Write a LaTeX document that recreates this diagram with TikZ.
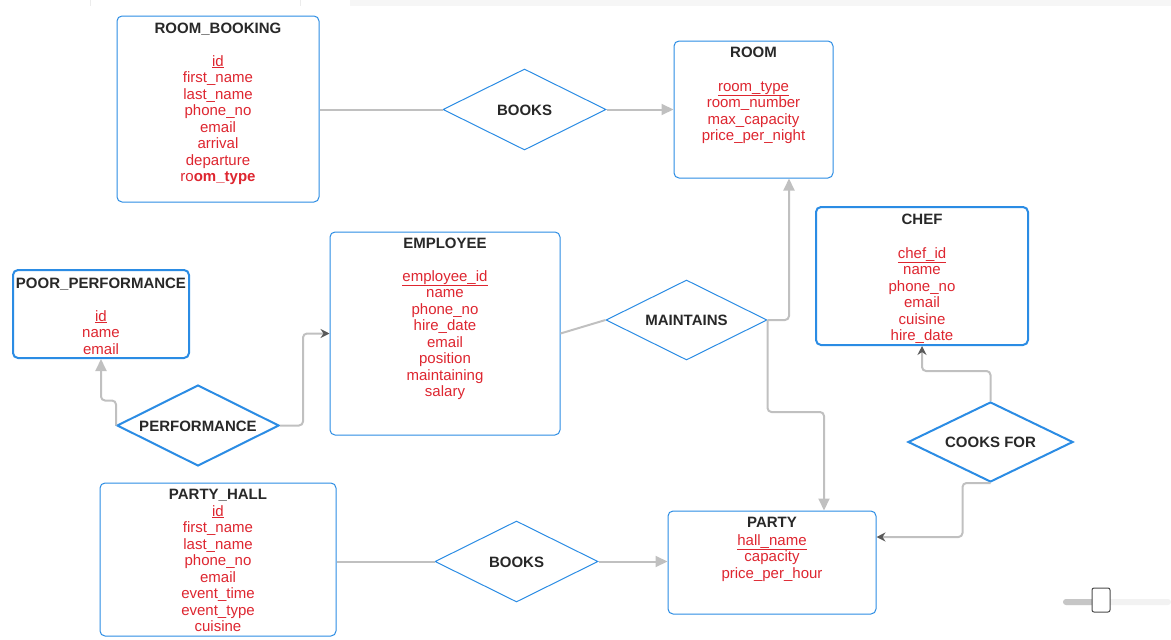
\documentclass[tikz,border=0pt]{standalone}
\usepackage{fontspec}
\setmainfont{Liberation Sans}
\usetikzlibrary{shapes.geometric,arrows.meta,calc}
\definecolor{erblue}{RGB}{43,140,228}
\definecolor{connc}{RGB}{192,192,192}
\definecolor{attrred}{RGB}{222,38,48}
\definecolor{ttl}{RGB}{40,40,40}
\newcommand\keyattr[1]{\underline{#1}}
\tikzset{
 entity/.style={draw=erblue, rounded corners=5pt, line width=1pt, inner sep=0pt, fill=white},
 thickentity/.style={entity, line width=2pt},
 rel/.style={diamond, draw=erblue, line width=1pt, inner sep=0pt, fill=white},
 thickrel/.style={rel, line width=2pt},
 rellabel/.style={font=\bfseries\fontsize{15}{16.5}\selectfont, text=ttl, inner sep=0pt, yshift=-0.5pt},
 ttlt/.style={font=\bfseries\fontsize{15}{16.5}\selectfont, text=ttl, inner sep=0pt, anchor=base, yshift=-1pt},
 attr/.style={font=\fontsize{15}{16.5}\selectfont, text=attrred, inner sep=0pt, anchor=base, yshift=-1pt},
 connector/.style={draw=connc, line width=2pt, rounded corners=4pt},
 arr/.style={-{Triangle[length=12pt,width=11pt]}},
 scrib/.style={-{Stealth[length=9pt,width=9pt,color=gray!70!black]}},
}
\begin{document}
\begin{tikzpicture}[x=1pt,y=-1pt]
\useasboundingbox (0,0) rectangle (1171,640);
% top band
\fill[gray!7] (350,0) rectangle (1171,6);
\draw[gray!15] (90,0) -- (90,6) (300,0) -- (300,6);

% ---------- entities ----------
\node[entity, minimum width=202pt, minimum height=186pt] (rb) at (218,109) {};
\node[ttlt] (rb-t) at (218,32) {ROOM\_BOOKING};
\foreach \t [count=\i from 0] in {\keyattr{id},first\_name,last\_name,phone\_no,email,arrival,departure,ro\textbf{om\_type}}
  \node[attr] (rb-a\i) at (218,{65+16.5*\i}) {\t};

\node[entity, minimum width=159pt, minimum height=137pt] (room) at (753.5,109.5) {};
\node[ttlt] (room-t) at (753.5,56.5) {ROOM};
\foreach \t [count=\i from 0] in {\keyattr{room\_type},room\_number,max\_capacity,price\_per\_night}
  \node[attr] (room-a\i) at (753.5,{90+16.5*\i}) {\t};

\node[entity, minimum width=230pt, minimum height=203pt] (emp) at (445,333.5) {};
\node[ttlt] (emp-t) at (445,247.5) {EMPLOYEE};
\foreach \t [count=\i from 0] in {\keyattr{employee\_id},name,phone\_no,hire\_date,email,position,maintaining,salary}
  \node[attr] (emp-a\i) at (445,{280+16.5*\i}) {\t};

\node[thickentity, minimum width=176pt, minimum height=88pt] (pp) at (101,314) {};
\node[ttlt] (pp-t) at (101,287.5) {POOR\_PERFORMANCE};
\foreach \t [count=\i from 0] in {\keyattr{id},name,email}
  \node[attr] (pp-a\i) at (101,{320+16.5*\i}) {\t};

\node[thickentity, minimum width=212pt, minimum height=138pt] (chef) at (922,276) {};
\node[ttlt] (chef-t) at (922,223.5) {CHEF};
\foreach \t [count=\i from 0] in {\keyattr{chef\_id},name,phone\_no,email,cuisine,hire\_date}
  \node[attr] (chef-a\i) at (922,{257+16.5*\i}) {\t};

\node[entity, minimum width=236pt, minimum height=153pt] (ph) at (218,559.5) {};
\node[ttlt] (ph-t) at (218,498.5) {PARTY\_HALL};
\foreach \t [count=\i from 0] in {\keyattr{id},first\_name,last\_name,phone\_no,email,event\_time,event\_type,cuisine}
  \node[attr] (ph-a\i) at (218,{515+16.5*\i}) {\t};

\node[entity, minimum width=208pt, minimum height=103pt] (party) at (772,562.5) {};
\node[ttlt] (party-t) at (772,526.5) {PARTY};
\foreach \t [count=\i from 0] in {\keyattr{hall\_name},capacity,price\_per\_hour}
  \node[attr] (party-a\i) at (772,{544+16.5*\i}) {\t};

% ---------- relationships ----------
\node[rel, minimum width=163pt, minimum height=81pt, label={[rellabel]center:BOOKS}] (books1) at (524.5,109.5) {};
\node[rel, minimum width=161pt, minimum height=80pt, label={[rellabel]center:MAINTAINS}] (maint) at (686.5,320) {};
\node[thickrel, minimum width=162pt, minimum height=81pt, label={[rellabel]center:PERFORMANCE}] (perf) at (198,425.5) {};
\node[thickrel, minimum width=165pt, minimum height=80pt, label={[rellabel]center:COOKS FOR}] (cooks) at (990.5,442) {};
\node[rel, minimum width=163pt, minimum height=81pt, label={[rellabel]center:BOOKS}] (books2) at (516.5,561.5) {};

% ---------- connectors ----------
\draw[connector] (books1.west -| rb.east) -- (books1.west);
\draw[connector, arr] (books1.east) -- (books1.east -| room.west);
\draw[connector] (emp.east) -- (maint.west);
\draw[connector, arr] (maint.east) -| ([xshift=35.5pt]room.south);
\draw[connector, arr] (maint.east) -- ++(0,92) -| ([xshift=52pt]party.north);
\draw[connector, arr] (perf.west) -- ++(0,-25) -| (pp.south);
\draw[connector, scrib] (perf.east) -- ++(23,0) |- (emp.west);
\draw[connector, scrib] (cooks.north) -- ++(0,-30) -| (chef.south);
\draw[connector, scrib] (cooks.south) -- ++(-28,0) |- ([yshift=25.5pt]party.east);
\draw[connector] (books2.west -| ph.east) -- (books2.west);
\draw[connector, arr] (books2.east) -- (books2.east -| party.west);

% ---------- slider ----------
\fill[gray!10, rounded corners=3pt] (1063,599) rectangle (1171,605);
\fill[gray!45, rounded corners=3pt] (1063,599) rectangle (1096,605);
\draw[gray!60!black, fill=white, rounded corners=2pt, line width=1pt] (1092,588) rectangle (1110,612);
\end{tikzpicture}
\end{document}
